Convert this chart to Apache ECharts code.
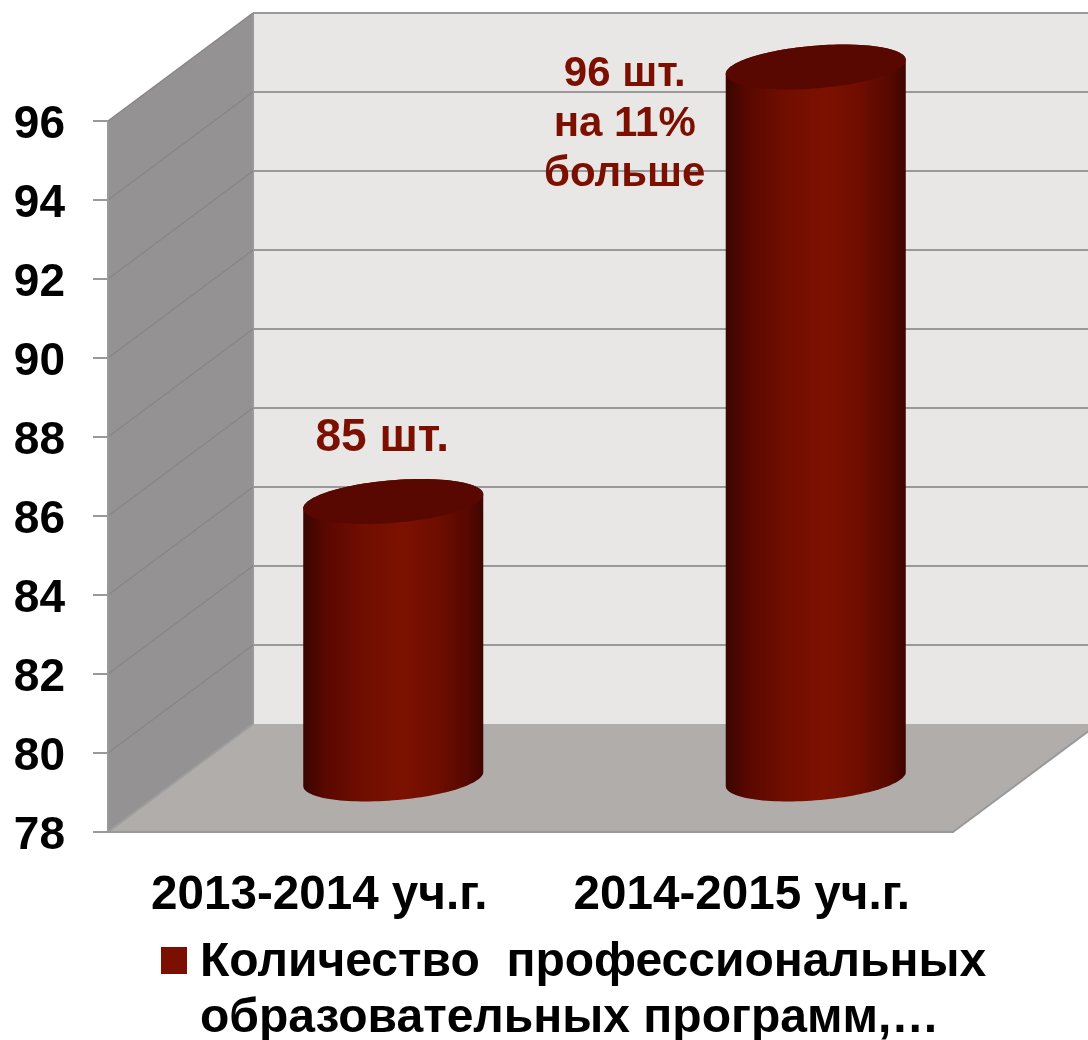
<!DOCTYPE html>
<html><head><meta charset="utf-8">
<style>html,body{margin:0;padding:0;background:#fff}#c{width:1088px;height:1040px}</style>
<script src="https://cdn.jsdelivr.net/npm/echarts@6/dist/echarts.min.js"></script>
</head><body><div id="c"></div>
<script>
const categories = ['2013-2014 уч.г.', '2014-2015 уч.г.'];
const barValues = [85, 96];
const barLabels = ['85 шт.', '96 шт.\nна 11%\nбольше'];
const yTicks = [78, 80, 82, 84, 86, 88, 90, 92, 94, 96];
const seriesName = 'Количество  профессиональных\nобразовательных программ,…';

const FONT = '"Liberation Sans", Arial, sans-serif';
const DX = 145, DY = 108;           // floor depth of the pseudo-3D box
const BAR_DX = 74, BAR_DY = 53;     // bars stand mid-way into the depth
const A = 90.3, B = 21.3, TILT = 4.71 * Math.PI / 180;
const LABEL_SHIFT = [[-11, -63], [-191, 57]];
const LABEL_SIZE = [46, 42];
const GREY = '#999999';

function ellipsePt(cx, cy, t) {
  const c = Math.cos(TILT), s = Math.sin(TILT);
  const x = A * Math.cos(t), y = B * Math.sin(t);
  return [cx + x * c + y * s, cy - x * s + y * c];
}
function ellipsePts(cx, cy) {
  const p = [];
  for (let i = 0; i < 120; i++) p.push(ellipsePt(cx, cy, i / 120 * 2 * Math.PI));
  return p;
}
function renderWalls(params, api) {
  const g = params.coordSys, x0 = g.x, x1 = g.x + g.width, yT = g.y, yB = g.y + g.height;
  const st = { fill: 'none', stroke: GREY, lineWidth: 2 };
  return { type: 'group', silent: true, children: [
    { type: 'polygon', shape: { points: [[x0 + DX, yT - DY], [x1 + DX, yT - DY], [x1 + DX, yB - DY], [x0 + DX, yB - DY]] }, style: { fill: '#e9e6e6' } },
    { type: 'polygon', shape: { points: [[x0, yT], [x0 + DX, yT - DY], [x0 + DX, yB - DY], [x0, yB]] }, style: { fill: '#949292' } },
    { type: 'polygon', shape: { points: [[x0, yB], [x0 + DX, yB - DY], [x1 + DX, yB - DY], [x1, yB]] }, style: { fill: '#b0adab' } },
    { type: 'line', shape: { x1: x0 + DX, y1: yT - DY, x2: x0 + DX, y2: yB - DY }, style: st },
    { type: 'line', shape: { x1: x1, y1: yB, x2: x1 + DX, y2: yB - DY }, style: st }
  ] };
}
function renderTick(params, api) {
  const g = params.coordSys, v = api.value(1);
  const y = api.coord([0, v])[1], x0 = g.x, x1 = g.x + g.width;
  const kids = [{ type: 'line', shape: { x1: x0, y1: y, x2: x0 + DX, y2: y - DY }, style: { stroke: v === yTicks[0] ? '#9e9e9e' : '#868686', lineWidth: v === yTicks[0] ? 2 : 1.5 } }];
  if (v !== yTicks[0]) kids.push({ type: 'line', shape: { x1: x0 + DX, y1: y - DY, x2: x1 + DX, y2: y - DY }, style: { stroke: GREY, lineWidth: 2 } });
  return { type: 'group', silent: true, children: kids };
}
function renderBar(params, api) {
  const i = api.value(0), v = api.value(1);
  const top = api.coord([i, v]), base = api.coord([i, yTicks[0]]);
  const cx = top[0] + BAR_DX, cyT = top[1] - BAR_DY - 1, cyB = base[1] - BAR_DY;
  const tan = Math.atan2(B * Math.sin(TILT), A * Math.cos(TILT));
  const body = [];
  for (let k = 0; k <= 60; k++) body.push(ellipsePt(cx, cyT, Math.PI + tan + k / 60 * Math.PI));
  for (let k = 0; k <= 60; k++) body.push(ellipsePt(cx, cyB, tan + k / 60 * Math.PI));
  const grad = new echarts.graphic.LinearGradient(0, 0, 1, 0, [
    { offset: 0, color: '#3a0500' }, { offset: 0.12, color: '#590800' }, { offset: 0.33, color: '#700e00' },
    { offset: 0.55, color: '#7d1100' }, { offset: 0.75, color: '#6e0d00' }, { offset: 0.92, color: '#560800' }, { offset: 1, color: '#3d0500' }
  ]);
  return { type: 'group', children: [
    { type: 'polygon', shape: { points: body }, style: { fill: grad } },
    { type: 'polygon', shape: { points: ellipsePts(cx, cyT) }, style: { fill: '#580800' } },
    { type: 'text', x: cx + LABEL_SHIFT[i][0], y: cyT + LABEL_SHIFT[i][1],
      style: { text: barLabels[i], fill: '#7b1000', font: 'bold ' + LABEL_SIZE[i] + 'px ' + FONT, textAlign: 'center', textVerticalAlign: 'middle', lineHeight: 50 } }
  ] };
}

const chart = echarts.init(document.getElementById('c'), null, { renderer: 'canvas' });
chart.setOption({
  animation: false,
  backgroundColor: '#ffffff',
  tooltip: { show: false },
  grid: { left: 108, right: 135, top: 121, height: 711, containLabel: false },
  xAxis: {
    type: 'category', data: categories, boundaryGap: true,
    axisLine: { lineStyle: { color: GREY, width: 2 } },
    axisTick: { length: 16, alignWithLabel: false, lineStyle: { color: GREY, width: 2 } },
    axisLabel: { color: '#000', fontFamily: FONT, fontWeight: 'bold', fontSize: 47.6, margin: 40, interval: 0, hideOverlap: false },
    z: 3
  },
  yAxis: {
    type: 'value', min: 78, max: 96, interval: 2,
    axisLine: { show: true, lineStyle: { color: GREY, width: 2 } },
    axisTick: { show: true, length: 15, lineStyle: { color: GREY, width: 2 } },
    axisLabel: { color: '#000', fontFamily: FONT, fontWeight: 'bold', fontSize: 46, margin: 43, verticalAlign: 'top', lineHeight: 8, hideOverlap: false },
    splitLine: { show: false },
    z: 3
  },
  legend: {
    data: [seriesName], left: 161, top: 935, padding: 0,
    icon: 'path://M0,0H26V27H0Z M34,88H34.01V88Z',
    itemWidth: 34, itemHeight: 88, itemGap: 0,
    selectedMode: false,
    textStyle: { color: '#000', fontFamily: FONT, fontWeight: 'bold', fontSize: 48, lineHeight: 56, padding: [0, 0, 0, 0] }
  },
  series: [
    { type: 'custom', name: 'walls', z: 1, silent: true, data: [[0, yTicks[0]]], encode: { x: 0, y: 1 }, renderItem: renderWalls },
    { type: 'custom', name: 'ticks', z: 2, silent: true, data: yTicks.map(v => [0, v]), encode: { x: 0, y: 1 }, renderItem: renderTick },
    { type: 'custom', name: seriesName, z: 5, itemStyle: { color: '#7b1000' }, data: barValues.map((v, i) => [i, v]), encode: { x: 0, y: 1 }, renderItem: renderBar }
  ]
});
</script></body></html>
